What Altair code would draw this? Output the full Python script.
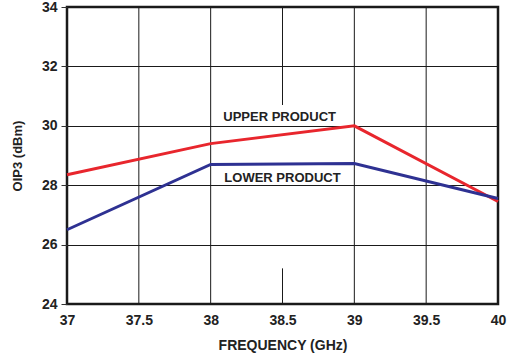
import altair as alt
import pandas as pd

freq = [37, 38, 39, 40]
upper = [28.35, 29.4, 30.0, 27.45]
lower = [26.5, 28.7, 28.73, 27.55]

x_ticks = [37, 37.5, 38, 38.5, 39, 39.5, 40]
y_ticks = [24, 26, 28, 30, 32, 34]

# vertical grid segments (x, y start, y end)
grid_x = [37.5, 38, 38.5, 38.5, 39, 39.5]
grid_y1 = [24, 24, 24, 30.7, 24, 24]
grid_y2 = [34, 34, 25.2, 34, 34, 34]

label_text = ["UPPER PRODUCT", "LOWER PRODUCT"]
label_x = [38.48, 38.5]
label_y = [30.3, 28.25]

FONT = "Liberation Sans"

df = pd.DataFrame({
    "f": freq * 2,
    "v": upper + lower,
    "s": ["UPPER"] * 4 + ["LOWER"] * 4,
})
grid_df = pd.DataFrame({"x": grid_x, "y1": grid_y1, "y2": grid_y2})
lab_df = pd.DataFrame({"t": label_text, "x": label_x, "y": label_y})

xscale = alt.Scale(domain=[37, 40], nice=False, zero=False)
yscale = alt.Scale(domain=[24, 34], nice=False, zero=False)

grid = alt.Chart(grid_df).mark_rule(color="#1a1a1a", strokeWidth=1).encode(
    x=alt.X("x:Q", scale=xscale),
    y=alt.Y("y1:Q", scale=yscale),
    y2="y2:Q",
)

lines = alt.Chart(df).mark_line(strokeWidth=3).encode(
    x=alt.X("f:Q", scale=xscale,
            axis=alt.Axis(values=x_ticks, title="FREQUENCY (GHz)", grid=False,
                          ticks=False, domain=False, labelPadding=9,
                          labelFont=FONT, labelFontSize=14, labelFontWeight="bold",
                          labelColor="#222", labelFlush=False,
                          labelExpr="datum.value",
                          titleFont=FONT, titleFontSize=14, titleFontWeight="bold",
                          titleColor="#222", titlePadding=11)),
    y=alt.Y("v:Q", scale=yscale,
            axis=alt.Axis(values=y_ticks, title="OIP3 (dBm)", grid=True,
                          gridColor="#1a1a1a", gridWidth=1, gridOpacity=1,
                          ticks=True, tickSize=6, tickColor="#333", tickWidth=1,
                          domain=False, labelPadding=4,
                          labelFont=FONT, labelFontSize=14, labelFontWeight="bold",
                          labelColor="#222",
                          titleFont=FONT, titleFontSize=13, titleFontWeight="bold",
                          titleColor="#222", titlePadding=17)),
    color=alt.Color("s:N", scale=alt.Scale(domain=["UPPER", "LOWER"],
                                           range=["#e8262d", "#2e3192"]),
                    legend=None),
    detail="s:N",
)

labels = alt.Chart(lab_df).mark_text(font=FONT, fontSize=13, fontWeight="bold",
                                     color="#222", align="center",
                                     baseline="middle").encode(
    x=alt.X("x:Q", scale=xscale),
    y=alt.Y("y:Q", scale=yscale),
    text="t:N",
)

chart = alt.layer(grid, lines, labels).properties(
    width=431, height=297,
    padding={"left": 67, "top": 7, "right": 11, "bottom": 54},
    autosize=alt.AutoSizeParams(type="none"),
).configure_view(stroke="#1a1a1a", strokeWidth=2.5)

chart.save("out.html", embed_options={"renderer": "svg", "actions": False})
